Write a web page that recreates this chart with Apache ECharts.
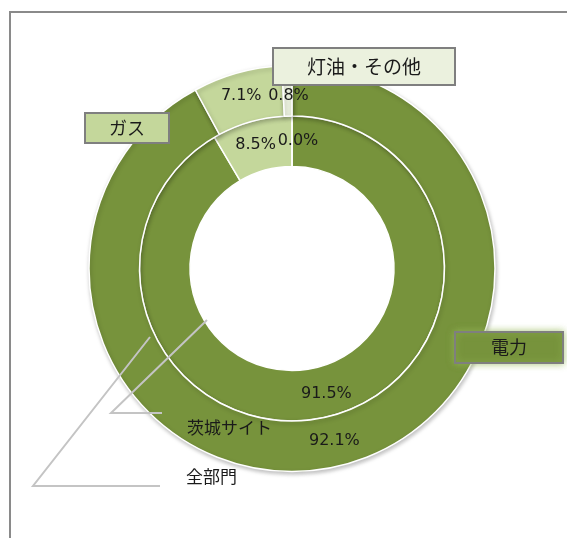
<!DOCTYPE html>
<html>
<head>
<meta charset="utf-8">
<script src="https://cdn.jsdelivr.net/npm/echarts@6/dist/echarts.min.js"></script>
<style>
html,body{margin:0;padding:0;background:#fff;}
#chart{width:567px;height:538px;}
</style>
</head>
<body>
<div id="chart"></div>
<script>
const categories = ['電力', 'ガス', '灯油・その他'];
const seriesNames = ['茨城サイト', '全部門'];
const innerValues = [91.5, 8.5, 0.0];   // 茨城サイト
const outerValues = [92.1, 7.1, 0.8];   // 全部門
const colors = ['#77933C', '#C4D79B', '#EBF1DE'];

const CX = 292, CY = 268.5;
const INNER_R = [102, 152.5];
const OUTER_R = [152.5, 203];

const chart = echarts.init(document.getElementById('chart'));
const fmt = v => v.toFixed(1) + '%';

function mk(values, offsets) {
  return categories.map((c, i) => ({
    name: c, value: values[i],
    itemStyle: { color: colors[i] },
    label: offsets && offsets[i] ? { offset: offsets[i] } : {}
  }));
}

const pctLabel = {
  show: true,
  position: 'inside',
  formatter: p => fmt(p.value),
  color: '#1a1a1a',
  fontFamily: 'DejaVu Sans',
  fontSize: 16
};

const boxText = (x, y, w, h, fill, txt, size, glow) => ([
  { type: 'rect', z: 100, shape: { x: x, y: y, width: w, height: h },
    style: Object.assign({ fill: fill, stroke: '#7f7f7f', lineWidth: 2 },
      glow ? { shadowBlur: 7, shadowColor: 'rgba(150,185,90,0.75)' } : {}) },
  { type: 'text', z: 101, x: x + w / 2, y: y + h / 2,
    style: { text: txt, fill: '#1a1a1a', font: size + 'px "Noto Sans CJK JP"', align: 'center', verticalAlign: 'middle' } }
]);

// label for zero-valued slices (ECharts hides labels of empty sectors)
const zeroLabels = [];
function addZeroLabels(values, radii) {
  const total = values.reduce((a, b) => a + b, 0);
  let cum = 0;
  values.forEach(v => {
    if (v === 0) {
      const a = (cum / total) * 2 * Math.PI;
      const r = (radii[0] + radii[1]) / 2;
      zeroLabels.push({ type: 'text', z: 101, x: CX + r * Math.sin(a) + 6, y: CY - r * Math.cos(a),
        style: { text: fmt(v), fill: '#1a1a1a', font: '16px "DejaVu Sans"', align: 'center', verticalAlign: 'middle' } });
    }
    cum += v;
  });
}
addZeroLabels(innerValues, INNER_R);

chart.setOption({
  animation: false,
  series: [
    {
      name: seriesNames[0],
      type: 'pie',
      center: [CX, CY],
      radius: INNER_R,
      startAngle: 90,
      clockwise: true,
      avoidLabelOverlap: false,
      minShowLabelAngle: 0,
      label: pctLabel,
      labelLine: { show: false },
      emphasis: { disabled: true },
      itemStyle: { borderColor: '#fff', borderWidth: 1.5 },
      data: mk(innerValues, [null, [-2, 2], null])
    },
    {
      name: seriesNames[1],
      type: 'pie',
      center: [CX, CY],
      radius: OUTER_R,
      startAngle: 90,
      clockwise: true,
      avoidLabelOverlap: false,
      minShowLabelAngle: 0,
      label: pctLabel,
      labelLine: { show: false },
      emphasis: { disabled: true },
      itemStyle: { borderColor: '#fff', borderWidth: 1.5, shadowColor: 'rgba(0,0,0,0.25)', shadowBlur: 4, shadowOffsetY: 2, shadowOffsetX: 1 },
      data: mk(outerValues, [[-2, -3], [-2, 1], [1, 8]])
    }
  ],
  graphic: [
    { type: 'polyline', z: 1, shape: { points: [[10, 540], [10, 12], [570, 12]] },
      style: { fill: null, stroke: '#8a8a8a', lineWidth: 2 } },
    { type: 'polyline', z: 90, shape: { points: [[207, 320], [111, 413], [162, 413]] },
      style: { fill: null, stroke: '#c4c4c4', lineWidth: 2 } },
    { type: 'polyline', z: 90, shape: { points: [[150, 337], [33, 486], [160, 486]] },
      style: { fill: null, stroke: '#c4c4c4', lineWidth: 2 } },
    { type: 'text', z: 101, x: 187, y: 428,
      style: { text: seriesNames[0], fill: '#1a1a1a', font: '17px "Noto Sans CJK JP"', align: 'left', verticalAlign: 'middle' } },
    { type: 'text', z: 101, x: 186, y: 477,
      style: { text: seriesNames[1], fill: '#1a1a1a', font: '17px "Noto Sans CJK JP"', align: 'left', verticalAlign: 'middle' } },
    ...zeroLabels,
    ...boxText(273, 48, 182, 37, colors[2], categories[2], 19),
    ...boxText(85, 113, 84, 30, colors[1], categories[1], 18),
    ...boxText(455, 332, 108, 31, colors[0], categories[0], 18, true)
  ]
});
</script>
</body>
</html>
